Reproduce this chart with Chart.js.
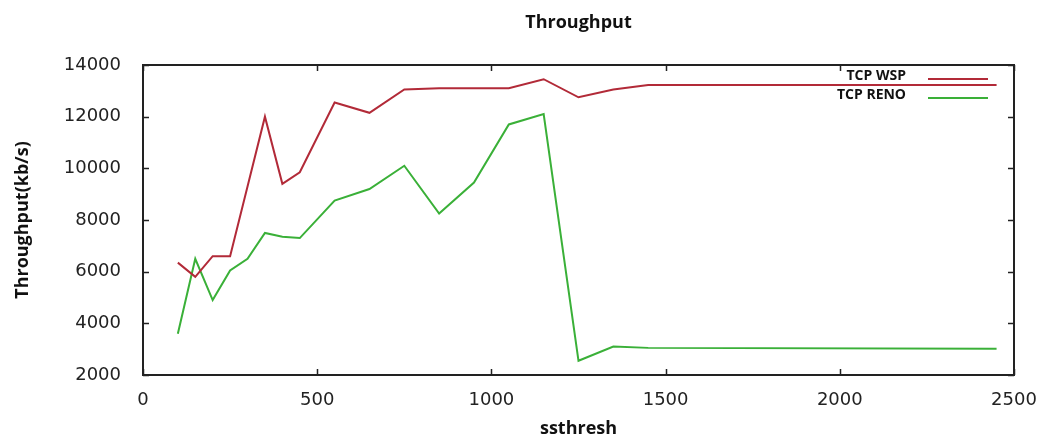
<!DOCTYPE html>
<html>
<head>
<meta charset="utf-8">
<title>Throughput</title>
<script src="https://cdn.jsdelivr.net/npm/chart.js@4/dist/chart.umd.min.js"></script>
<style>
    html, body { margin: 0; padding: 0; background: #fff; }
    #chart_wrap { width: 1048px; height: 435px; }
</style>
</head>
<body>
<div id="chart_wrap"><canvas id="throughput_chart"></canvas></div>
<script>
var ssthresh = [100, 150, 200, 250, 300, 350, 400, 450, 550, 650, 750, 850, 950, 1050, 1150, 1250, 1350, 1450, 2450];
var tcpWsp = [6350, 5800, 6600, 6600, 9300, 12000, 9400, 9850, 12550, 12150, 13050, 13100, 13100, 13100, 13450, 12750, 13050, 13230, 13230];
var tcpReno = [3600, 6500, 4900, 6050, 6500, 7500, 7350, 7300, 8750, 9200, 10100, 8250, 9450, 11700, 12100, 2550, 3100, 3050, 3020];
var xTicks = [0, 500, 1000, 1500, 2000, 2500];
var yTicks = [2000, 4000, 6000, 8000, 10000, 12000, 14000];

(function () {
    'use strict';

    function points(values) {
        return values.map(function (v, i) { return { x: ssthresh[i], y: v }; });
    }

    //Gnuplot style ticks, pointing inwards on all four sides
    var innerTicks = {
        id: 'innerTicks',
        afterDatasetsDraw: function (chart) {
            var ctx = chart.ctx, a = chart.chartArea;
            var xs = chart.scales.x, ys = chart.scales.y;
            var len = 6;
            ctx.save();
            ctx.strokeStyle = '#222';
            ctx.lineWidth = 1.5;
            ctx.beginPath();
            xTicks.forEach(function (t) {
                var px = Math.round(xs.getPixelForValue(t)) + 0.5;
                ctx.moveTo(px, a.bottom); ctx.lineTo(px, a.bottom - len);
                ctx.moveTo(px, a.top); ctx.lineTo(px, a.top + len);
            });
            yTicks.forEach(function (t) {
                var py = Math.round(ys.getPixelForValue(t)) + 0.5;
                ctx.moveTo(a.left, py); ctx.lineTo(a.left + len, py);
                ctx.moveTo(a.right, py); ctx.lineTo(a.right - len, py);
            });
            ctx.stroke();
            ctx.lineWidth = 2;
            ctx.strokeRect(a.left, a.top, a.right - a.left, a.bottom - a.top);
            ctx.restore();
        }
    };

    //Legend inside the plot, text left of the line sample
    var keyLegend = {
        id: 'keyLegend',
        afterDatasetsDraw: function (chart) {
            var ctx = chart.ctx, a = chart.chartArea;
            ctx.save();
            ctx.font = 'bold 14px "Open Sans"';
            ctx.textAlign = 'right';
            ctx.textBaseline = 'middle';
            chart.data.datasets.forEach(function (ds, i) {
                var y = a.top + 11 + i * 19;
                ctx.fillStyle = '#111';
                ctx.fillText(ds.label, a.right - 108, y);
                ctx.strokeStyle = ds.borderColor;
                ctx.lineWidth = 2;
                ctx.beginPath();
                ctx.moveTo(a.right - 86, y + 3);
                ctx.lineTo(a.right - 26, y + 3);
                ctx.stroke();
            });
            ctx.restore();
        }
    };

    //Init line chart
    function initThroughputChart() {
        var labelFont = { family: 'Open Sans', size: 18, weight: 'bold' };
        var tickFont = { family: 'DejaVu Sans', size: 18 };
        var config = {
            type: 'line',
            data: {
                datasets: [{
                    label: 'TCP WSP',
                    data: points(tcpWsp),
                    borderColor: 'rgb(178, 42, 56)',
                    borderWidth: 2,
                    pointRadius: 0,
                    tension: 0
                }, {
                    label: 'TCP RENO',
                    data: points(tcpReno),
                    borderColor: 'rgb(58, 176, 56)',
                    borderWidth: 2,
                    pointRadius: 0,
                    tension: 0
                }]
            },
            options: {
                responsive: true,
                maintainAspectRatio: false,
                animation: false,
                layout: { padding: { left: 12, right: 34, top: 0, bottom: 0 } },
                plugins: {
                    legend: { display: false },
                    tooltip: { enabled: false }
                },
                scales: {
                    // top axis only carries the chart title, centred over the plot
                    top: {
                        type: 'linear',
                        position: 'top',
                        min: 0,
                        max: 2500,
                        afterFit: function (scale) { scale.height = 65; },
                        grid: { display: false },
                        border: { display: false },
                        ticks: { display: false },
                        title: {
                            display: true,
                            text: 'Throughput',
                            color: '#111',
                            font: labelFont,
                            padding: { top: 12, bottom: 0 }
                        }
                    },
                    x: {
                        type: 'linear',
                        min: 0,
                        max: 2500,
                        afterBuildTicks: function (scale) {
                            scale.ticks = xTicks.map(function (v) { return { value: v }; });
                        },
                        afterFit: function (scale) { scale.height = 60; },
                        grid: { display: false },
                        border: { display: false },
                        ticks: {
                            color: '#222',
                            padding: 7,
                            font: tickFont,
                            callback: function (v) { return String(v); }
                        },
                        title: {
                            display: true,
                            text: 'ssthresh',
                            color: '#111',
                            font: labelFont,
                            padding: { top: 4, bottom: -5 }
                        }
                    },
                    y: {
                        min: 2000,
                        max: 14000,
                        afterBuildTicks: function (scale) {
                            scale.ticks = yTicks.map(function (v) { return { value: v }; });
                        },
                        afterFit: function (scale) { scale.width = 131; },
                        grid: { display: false },
                        border: { display: false },
                        ticks: {
                            color: '#222',
                            padding: 14,
                            font: tickFont,
                            callback: function (v) { return String(v); }
                        },
                        title: {
                            display: true,
                            text: 'Throughput(kb/s)',
                            color: '#111',
                            font: labelFont,
                            padding: { top: 0, bottom: 0 }
                        }
                    }
                }
            },
            plugins: [innerTicks, keyLegend]
        };

        var chart = new Chart(document.getElementById('throughput_chart').getContext('2d'), config);
    }

    initThroughputChart();
}());
</script>
</body>
</html>
